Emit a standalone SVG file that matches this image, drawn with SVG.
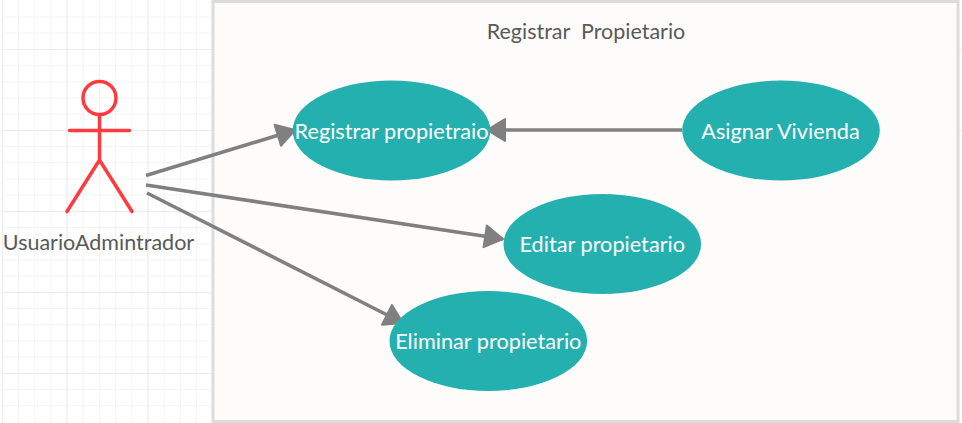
<svg xmlns="http://www.w3.org/2000/svg" width="962" height="423" viewBox="0 0 962 423">
<style>
.maj{stroke:#ececec;stroke-width:1.2;fill:none}
.min{stroke:#f4f4f4;stroke-width:1;fill:none}
.uc{fill:#25b0b0}
.ut{fill:#ffffff;font-family:Lato,"Liberation Sans",sans-serif;font-size:21.700px;text-anchor:middle}
.lb{fill:#595959;font-family:Lato,"Liberation Sans",sans-serif;font-size:21.500px;text-anchor:middle;white-space:pre}
.act{stroke:#ff3b3f;stroke-width:3.5;fill:none;stroke-linecap:round}
.con{stroke:#808080;stroke-width:3.6;fill:none}
</style>
<defs>
<marker id="arr" markerUnits="userSpaceOnUse" markerWidth="26" markerHeight="28" refX="20" refY="13" orient="auto">
<path d="M2 2 L20 13 L2 24 Z" fill="#808080" stroke="#808080" stroke-width="2" stroke-linejoin="round"/>
</marker>
</defs>
<rect width="962" height="423" fill="#ffffff"/>
<g id="grid">
<path class="min" d="M18.500 0V423M34.700 0V423M50.900 0V423M83.200 0V423M99.400 0V423M115.600 0V423M131.800 0V423M164.200 0V423M180.400 0V423M196.600 0V423M2 17H212M2 33H212M2 65.700H212M2 81.900H212M2 98H212M2 114H212M2 146.500H212M2 162.700H212M2 179H212M2 195H212M2 227.500H212M2 243.700H212M2 260H212M2 276H212M2 308.500H212M2 324.700H212M2 341H212M2 357H212M2 389.500H212M2 405.700H212"/>
<path class="maj" d="M2.500 0V423M67 0V423M148 0V423M2 49.500H212M2 130.500H212M2 211.500H212M2 292.500H212M2 373.500H212M955 49.500H962M955 130.500H962"/>
</g>
<g id="frame">
<rect x="213" y="1.500" width="745" height="420" fill="#fdfcfb" stroke="#dcdcdc" stroke-width="3"/>
<text class="lb" x="586" y="39">Registrar  Propietario</text>
</g>
<g id="connectors">
<path class="con" marker-end="url(#arr)" d="M146 175.500L295 130"/>
<path class="con" marker-end="url(#arr)" d="M146 185L503 239"/>
<path class="con" marker-end="url(#arr)" d="M147 193L403 323"/>
<path class="con" marker-end="url(#arr)" d="M682 130H487"/>
</g>
<g id="actor">
<circle class="act" cx="99.500" cy="98" r="16.500"/>
<path class="act" d="M99.500 115V160M69.500 130.500H129.500M99.500 160L67 211.500M99.500 160L132 211.500"/>
<text class="lb" x="98.500" y="250">UsuarioAdmintrador</text>
</g>
<g id="uc1"><ellipse class="uc" cx="391.500" cy="130.500" rx="98.800" ry="50"/><text class="ut" x="391.500" y="138.500">Registrar propietraio</text></g>
<g id="uc2"><ellipse class="uc" cx="781" cy="130.500" rx="98.800" ry="50"/><text class="ut" x="780.500" y="138.500">Asignar Vivienda</text></g>
<g id="uc3"><ellipse class="uc" cx="602.300" cy="244" rx="98.800" ry="50"/><text class="ut" x="602.300" y="252">Editar propietario</text></g>
<g id="uc4"><ellipse class="uc" cx="488.300" cy="341" rx="98.800" ry="50"/><text class="ut" x="488.300" y="349">Eliminar propietario</text></g>
</svg>
